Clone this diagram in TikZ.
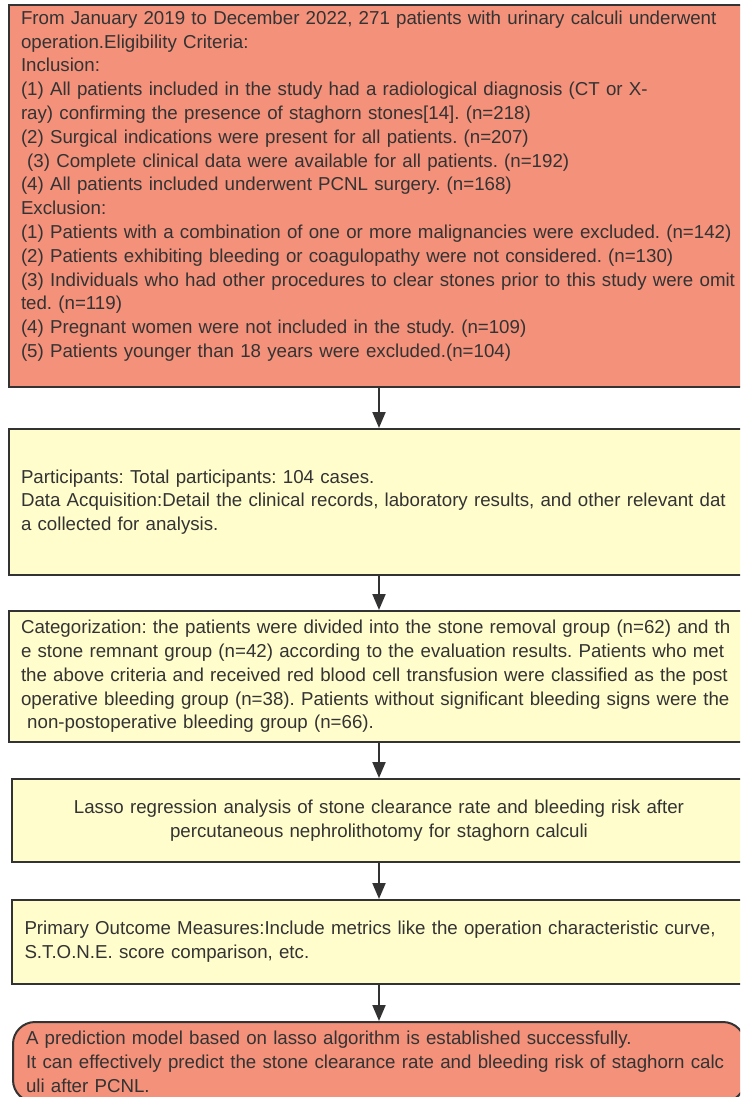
\documentclass[tikz,border=0pt]{standalone}
\usepackage{fontspec}
\setmainfont{Liberation Sans}
\frenchspacing
\usetikzlibrary{arrows.meta}
\definecolor{salmon}{RGB}{243,145,122}
\definecolor{paleyellow}{RGB}{255,253,204}
\definecolor{edgegray}{RGB}{51,51,51}
\tikzset{>={Triangle[length = 16pt, width = 13pt]}}
\tikzstyle{flowbox} = [rectangle, draw = edgegray, line width = 2pt, text = edgegray, inner xsep = 12pt, text width = 716pt, font = \fontsize{18.7}{23.8}\selectfont]
\tikzstyle{redbox} = [flowbox, fill = salmon, align = left, execute at begin node = {\rightskip = -40pt plus 1fil}]
\tikzstyle{yellowbox} = [flowbox, fill = paleyellow, align = left, execute at begin node = {\rightskip = -40pt plus 1fil}]
\tikzstyle{centerbox} = [flowbox, fill = paleyellow, align = center]
\tikzstyle{flow} = [->, line width = 2pt, draw = edgegray]

\begin{document}
\begin{tikzpicture}
    \useasboundingbox (0,0) rectangle (740pt,-1097pt);
    \clip (0,0) rectangle (740pt,-1097pt);

    \node (elig) [redbox, minimum height = 382pt] at (379pt,-196pt) {From January 2019 to December 2022, 271 patients with urinary calculi underwent\\operation.Eligibility Criteria:\\Inclusion:\\(1) All patients included in the study had a radiological diagnosis (CT or X-\\ray) confirming the presence of staghorn stones[14]. (n=218)\\(2) Surgical indications were present for all patients. (n=207)\\\ (3) Complete clinical data were available for all patients. (n=192)\\(4) All patients included underwent PCNL surgery. (n=168)\\Exclusion:\\(1) Patients with a combination of one or more malignancies were excluded. (n=142)\\(2) Patients exhibiting bleeding or coagulopathy were not considered. (n=130)\\(3) Individuals who had other procedures to clear stones prior to this study were omit\\ted. (n=119)\\(4) Pregnant women were not included in the study. (n=109)\\(5) Patients younger than 18 years were excluded.(n=104)\\\mbox{}};
    \node (particip) [yellowbox, minimum height = 146pt, below of = elig, node distance = 306pt] {Participants: Total participants: 104 cases.\\Data Acquisition:Detail the clinical records, laboratory results, and other relevant dat\\a collected for analysis.};
    \node (categ) [yellowbox, minimum height = 131pt, below of = particip, node distance = 174.5pt] {Categorization: the patients were divided into the stone removal group (n=62) and th\\e stone remnant group (n=42) according to the evaluation results. Patients who met\\the above criteria and received red blood cell transfusion were classified as the post\\operative bleeding group (n=38). Patients without significant bleeding signs were the\\\ non-postoperative bleeding group (n=66).};
    \node (lasso) [centerbox, inner xsep = 14pt, text width = 706pt, minimum height = 83pt, below of = categ, node distance = 144pt] {Lasso regression analysis of stone clearance rate and bleeding risk after\\percutaneous nephrolithotomy for staghorn calculi};
    \node (outcome) [yellowbox, inner xsep = 12.5pt, text width = 709pt, minimum height = 84pt, below of = lasso, node distance = 121.5pt] {Primary Outcome Measures:Include metrics like the operation characteristic curve,\\S.T.O.N.E. score comparison, etc.};
    \node (model) [redbox, rounded corners = 22pt, inner xsep = 13pt, text width = 706pt, minimum height = 80pt, below of = outcome, node distance = 120pt] {A prediction model based on lasso algorithm is established successfully.\\It can effectively predict the stone clearance rate and bleeding risk of staghorn calc\\uli after PCNL.};

    \draw [flow] (elig) -- (particip);
    \draw [flow] (particip) -- (categ);
    \draw [flow] (categ) -- (lasso);
    \draw [flow] (lasso) -- (outcome);
    \draw [flow] (outcome) -- (model);
\end{tikzpicture}
\end{document}
